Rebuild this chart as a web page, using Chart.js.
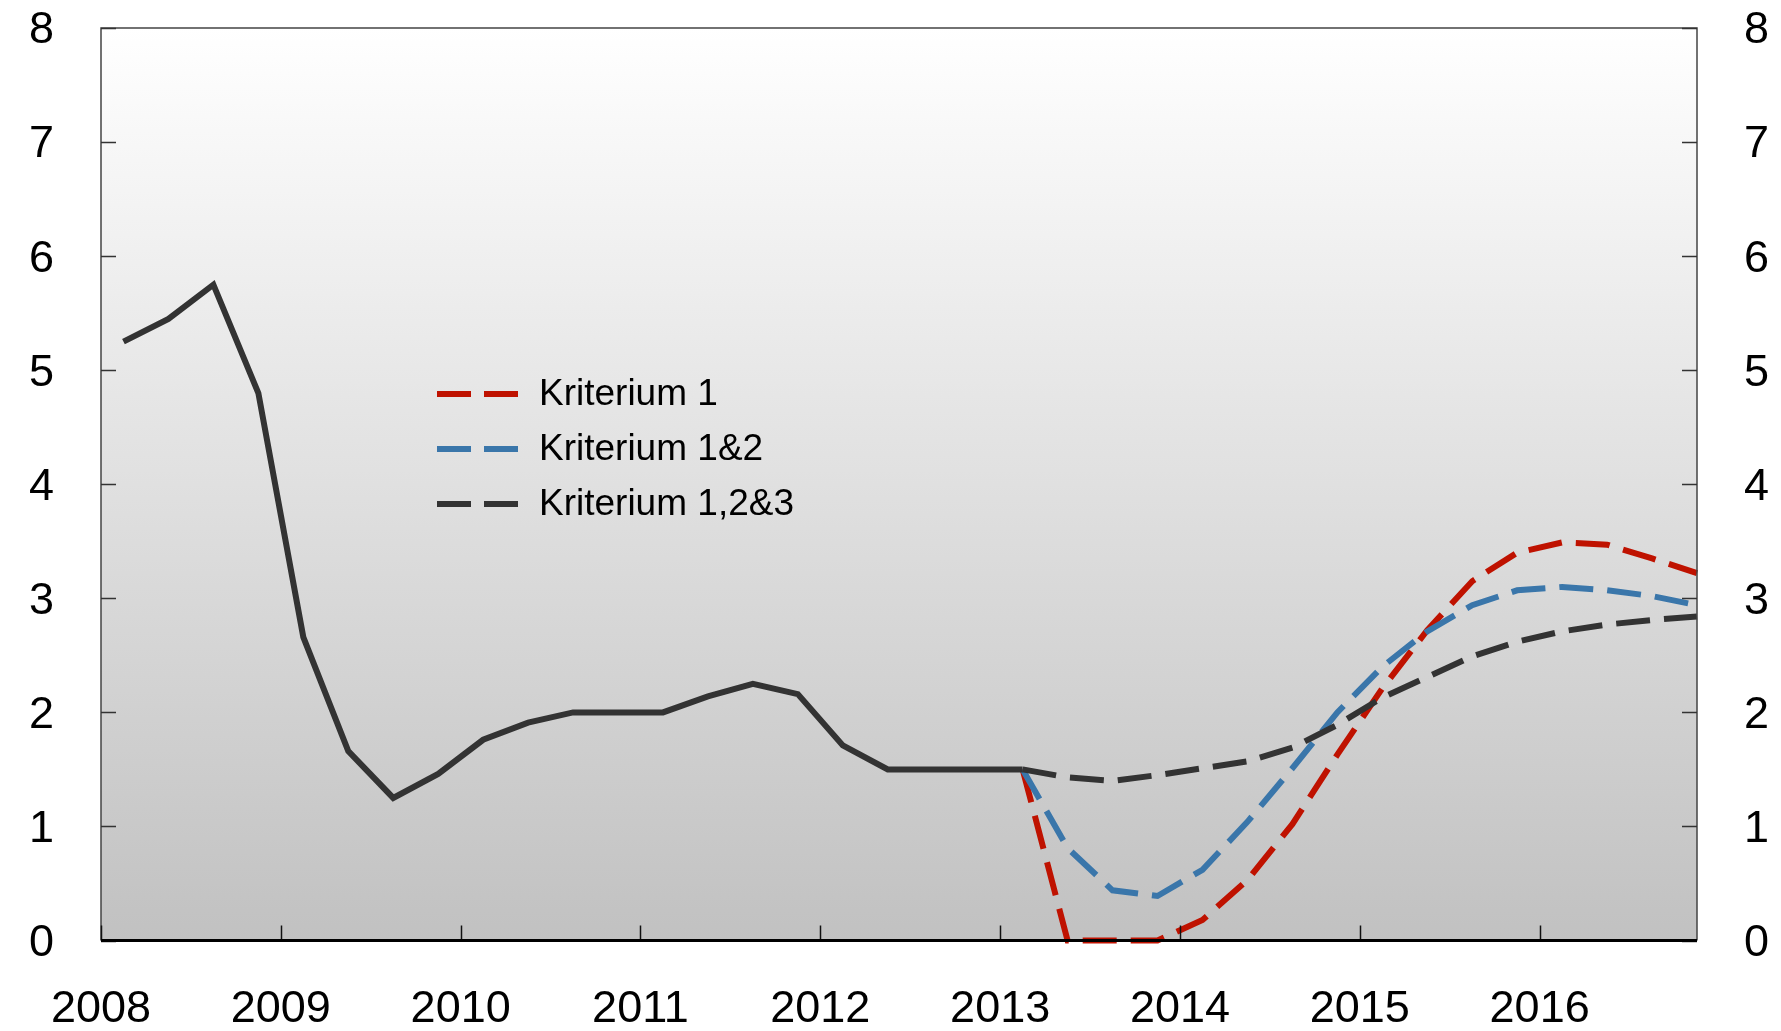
<!DOCTYPE html>
<html>
<head>
<meta charset="utf-8">
<script src="https://cdn.jsdelivr.net/npm/chart.js@4.4.1/dist/chart.umd.min.js"></script>
<style>
  html, body { margin: 0; padding: 0; background: #ffffff; }
  canvas { display: block; }
</style>
</head>
<body>
<canvas id="c" width="1781" height="1031"></canvas>
<script>
// ---- DATA ----
const quarters = [
  '2008K1','2008K2','2008K3','2008K4','2009K1','2009K2','2009K3','2009K4',
  '2010K1','2010K2','2010K3','2010K4','2011K1','2011K2','2011K3','2011K4',
  '2012K1','2012K2','2012K3','2012K4','2013K1','2013K2','2013K3','2013K4',
  '2014K1','2014K2','2014K3','2014K4','2015K1','2015K2','2015K3','2015K4',
  '2016K1','2016K2','2016K3','2016K4'
];
// history 2008K1..2013K1
const history = [5.25, 5.45, 5.75, 4.80, 2.66, 1.66, 1.25, 1.46, 1.76, 1.91, 2.00, 2.00,
                 2.00, 2.14, 2.25, 2.16, 1.71, 1.50, 1.50, 1.50, 1.50];
// projections 2013K1..2016K4
const kriterium1   = [1.50, 0.00, 0.00, 0.00, 0.18, 0.53, 1.02, 1.63, 2.21, 2.72, 3.15, 3.40, 3.49, 3.47, 3.35, 3.22];
const kriterium12  = [1.50, 0.81, 0.44, 0.39, 0.62, 1.04, 1.51, 2.00, 2.40, 2.71, 2.94, 3.07, 3.10, 3.07, 3.02, 2.94];
const kriterium123 = [1.50, 1.43, 1.40, 1.45, 1.51, 1.57, 1.69, 1.89, 2.13, 2.31, 2.49, 2.62, 2.71, 2.77, 2.81, 2.84];
const yearTicks = [2008, 2009, 2010, 2011, 2012, 2013, 2014, 2015, 2016];
const yTicks = [0, 1, 2, 3, 4, 5, 6, 7, 8];
const seriesNames = ['Kriterium 1', 'Kriterium 1&2', 'Kriterium 1,2&3'];
const seriesColors = ['#bf1200', '#3a76aa', '#333333'];

// ---- helpers ----
function qToX(q) {
  const year = parseInt(q.slice(0, 4), 10);
  const qn = parseInt(q.slice(5), 10);
  return year + (qn - 0.5) / 4;
}
const histStart = 0;
const projStart = history.length - 1;
function pts(values, start) {
  return values.map((v, i) => ({ x: qToX(quarters[start + i]), y: v }));
}

const FONT = '"Liberation Sans", Arial, Helvetica, sans-serif';
const TICKSIZE = 45;

const bgPlugin = {
  id: 'bg',
  beforeDraw(chart) {
    const { ctx, chartArea: a } = chart;
    const g = ctx.createLinearGradient(0, a.top, 0, a.bottom);
    g.addColorStop(0, '#ffffff');
    g.addColorStop(1, '#c1c1c1');
    ctx.save();
    ctx.fillStyle = g;
    ctx.fillRect(a.left, a.top, a.right - a.left, a.bottom - a.top);
    ctx.restore();
  },
  afterDatasetsDraw(chart) {
    const { ctx, chartArea: a, scales } = chart;
    ctx.save();
    // frame
    ctx.strokeStyle = '#444';
    ctx.lineWidth = 1.5;
    ctx.beginPath();
    ctx.moveTo(a.left, a.bottom); ctx.lineTo(a.left, a.top);
    ctx.lineTo(a.right, a.top); ctx.lineTo(a.right, a.bottom);
    ctx.stroke();
    // y ticks inward both sides
    ctx.strokeStyle = '#333';
    ctx.lineWidth = 1.5;
    yTicks.forEach(v => {
      const y = Math.round(scales.y.getPixelForValue(v)) + 0.5;
      ctx.beginPath();
      ctx.moveTo(a.left, y); ctx.lineTo(a.left + 15, y);
      ctx.moveTo(a.right, y); ctx.lineTo(a.right - 15, y);
      ctx.stroke();
    });
    // x ticks inward
    ctx.strokeStyle = '#111';
    yearTicks.forEach(v => {
      const x = Math.round(scales.x.getPixelForValue(v)) + 0.5;
      ctx.beginPath();
      ctx.moveTo(x, a.bottom); ctx.lineTo(x, a.bottom - 15);
      ctx.stroke();
    });
    // bottom axis
    ctx.strokeStyle = '#000';
    ctx.lineWidth = 3;
    ctx.beginPath();
    ctx.moveTo(a.left, a.bottom); ctx.lineTo(a.right, a.bottom);
    ctx.stroke();
    // legend
    const lx = a.left + 336, ly0 = 394, step = 55;
    seriesNames.forEach((name, i) => {
      const y = ly0 + i * step;
      ctx.strokeStyle = seriesColors[i];
      ctx.lineWidth = 6;
      ctx.lineCap = 'butt';
      ctx.setLineDash([34, 13]);
      ctx.beginPath();
      ctx.moveTo(lx, y); ctx.lineTo(lx + 81, y);
      ctx.stroke();
      ctx.setLineDash([]);
      ctx.fillStyle = '#000';
      ctx.font = '37px ' + FONT;
      ctx.textBaseline = 'middle';
      ctx.textAlign = 'left';
      ctx.fillText(name, lx + 102, y + 1);
    });
    ctx.restore();
  }
};

const lineBase = { pointRadius: 0, borderWidth: 6, fill: false, tension: 0,
                   borderCapStyle: 'butt', borderJoinStyle: 'miter', clip: 4 };

function zeroPad(s) { s.paddingTop = 0; s.paddingBottom = 0; s.paddingLeft = 0; s.paddingRight = 0; }

new Chart(document.getElementById('c'), {
  type: 'line',
  data: {
    datasets: [
      Object.assign({ label: 'Historikk', data: pts(history, histStart), borderColor: '#333333' }, lineBase),
      Object.assign({ label: seriesNames[2], data: pts(kriterium123, projStart), borderColor: seriesColors[2], borderDash: [34, 14] }, lineBase),
      Object.assign({ label: seriesNames[1], data: pts(kriterium12, projStart), borderColor: seriesColors[1], borderDash: [34, 14] }, lineBase),
      Object.assign({ label: seriesNames[0], data: pts(kriterium1, projStart), borderColor: seriesColors[0], borderDash: [34, 14] }, lineBase)
    ]
  },
  plugins: [bgPlugin],
  options: {
    responsive: false,
    animation: false,
    devicePixelRatio: 1,
    layout: { padding: { top: 28, left: 0, right: 0, bottom: 0 } },
    plugins: { legend: { display: false }, tooltip: { enabled: false } },
    scales: {
      x: {
        type: 'linear', position: 'bottom', min: 2008, max: 2016.875,
        afterBuildTicks: s => { s.ticks = yearTicks.map(v => ({ value: v })); },
        afterFit: s => { s.height = 90.5; zeroPad(s); },
        grid: { display: false, drawTicks: false },
        border: { display: false },
        ticks: { autoSkip: false, maxRotation: 0, padding: 42, color: '#000',
                 font: { family: FONT, size: TICKSIZE }, callback: v => String(v) }
      },
      y: {
        position: 'left', min: 0, max: 8,
        afterBuildTicks: s => { s.ticks = yTicks.map(v => ({ value: v })); },
        afterFit: s => { s.width = 101; zeroPad(s); },
        grid: { display: false, drawTicks: false },
        border: { display: false },
        ticks: { padding: 47, labelOffset: 3, color: '#000', font: { family: FONT, size: TICKSIZE } }
      },
      y2: {
        position: 'right', min: 0, max: 8,
        afterBuildTicks: s => { s.ticks = yTicks.map(v => ({ value: v })); },
        afterFit: s => { s.width = 84; zeroPad(s); },
        grid: { display: false, drawTicks: false },
        border: { display: false },
        ticks: { padding: 47, labelOffset: 3, color: '#000', font: { family: FONT, size: TICKSIZE } }
      }
    }
  }
});
</script>
</body>
</html>
